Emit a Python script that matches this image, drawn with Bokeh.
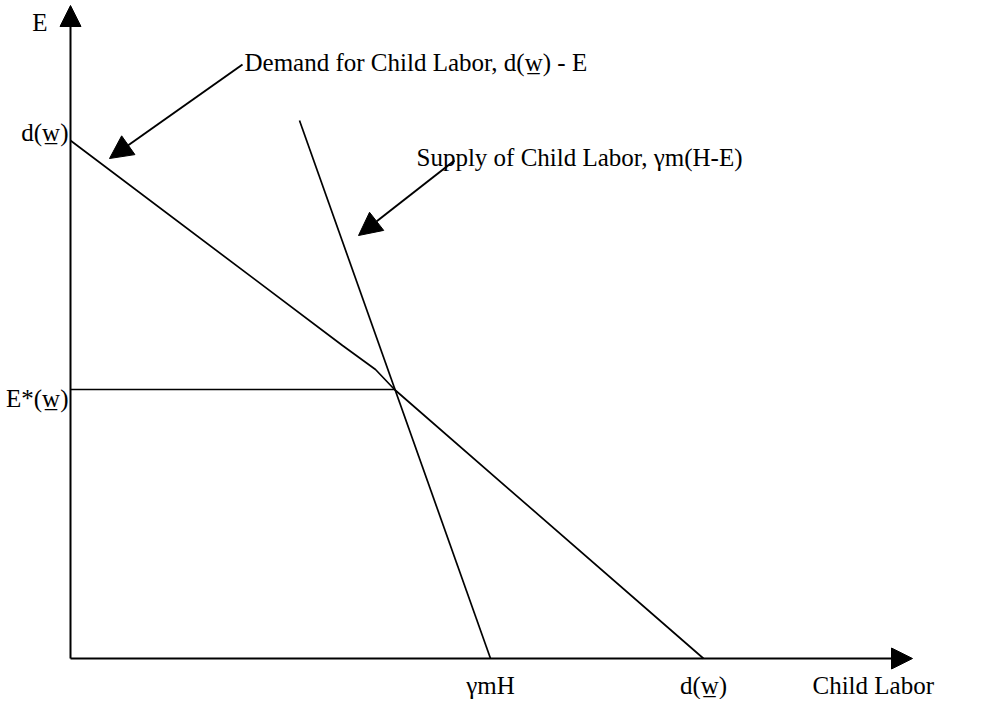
from bokeh.plotting import figure
from bokeh.models import Range1d, Arrow, NormalHead
from bokeh.core.properties import value
from bokeh.embed import file_html
from bokeh.resources import INLINE

# ---- data (schematic units, origin at axes corner) ----
demand_x = [0, 272, 305, 324, 633]
demand_y = [518, 313, 289, 269, 0]
supply_x = [229, 420]
supply_y = [538, 0]
eq_labor = 324
eq_e = 269
x_axis_end = 842
y_axis_end = 653

W = "w\u0332"
axis_label_x = "Child Labor"
axis_label_y = "E"
tick_labels_y = [f"d({W})", f"E*({W})"]
tick_labels_x = ["\u03b3mH", f"d({W})"]
demand_label = f"Demand for Child Labor, d({W}) - E"
supply_label = "Supply of Child Labor, \u03b3m(H-E)"

FONT = value("Liberation Serif")
FS = "25px"

p = figure(width=984, height=699, output_backend="svg", toolbar_location=None,
           x_range=Range1d(-70, 914), y_range=Range1d(-41, 658), min_border=0)
p.axis.visible = False
p.grid.visible = False
p.outline_line_color = None
p.background_fill_color = "white"

def head(size):
    return NormalHead(size=size, fill_color="black", line_color="black", line_width=1)

# axes with arrow heads
p.add_layout(Arrow(x_start=0, y_start=0, x_end=0, y_end=y_axis_end, line_width=2, end=head(21)))
p.add_layout(Arrow(x_start=0, y_start=0, x_end=x_axis_end, y_end=0, line_width=2, end=head(21)))

# curves
p.line(demand_x, demand_y, line_color="black", line_width=1.7)
p.line(supply_x, supply_y, line_color="black", line_width=1.7)
p.line([0, eq_labor], [eq_e, eq_e], line_color="black", line_width=1.7)

# pointer arrows
p.add_layout(Arrow(x_start=172, y_start=594, x_end=39, y_end=500, line_width=2, end=head(23)))
p.add_layout(Arrow(x_start=384, y_start=498, x_end=288, y_end=423, line_width=2, end=head(23)))

def txt(x, y, s, align="left"):
    p.text(x=[x], y=[y], text=[s], text_font=FONT, text_font_size=FS,
           text_color="black", text_align=align, text_baseline="alphabetic")

txt(-23, 636, axis_label_y, "right")
txt(-2, demand_y[0] + 8, tick_labels_y[0], "right")
txt(-2, eq_e - 9, tick_labels_y[1], "right")
txt(supply_x[-1], -27, tick_labels_x[0], "center")
txt(demand_x[-1], -27, tick_labels_x[1], "center")
txt(742, -27, axis_label_x, "left")
txt(174, 596, demand_label, "left")
txt(346, 501, supply_label, "left")

open("out.html", "w").write(file_html(p, INLINE))
